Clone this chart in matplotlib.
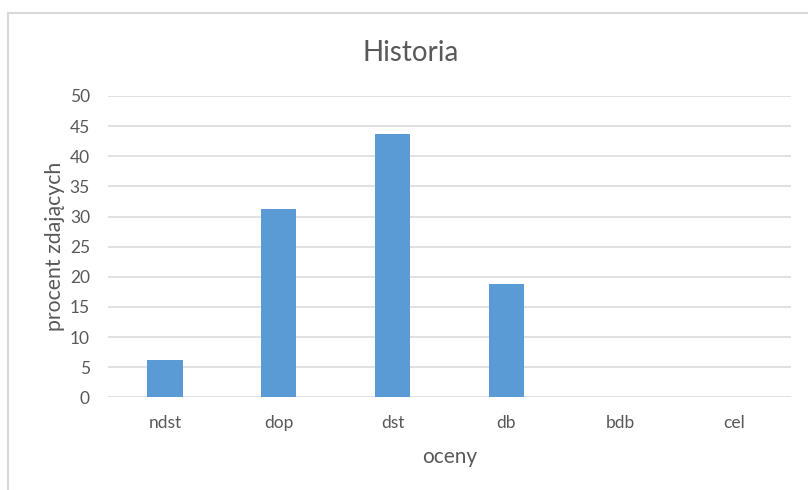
import matplotlib
matplotlib.use("Agg")
import matplotlib.pyplot as plt
from matplotlib.patches import Rectangle

categories = ["ndst", "dop", "dst", "db", "bdb", "cel"]
values = [6.25, 31.25, 43.75, 18.75, 0, 0]
yticks = [0, 5, 10, 15, 20, 25, 30, 35, 40, 45, 50]

W, H = 808, 490
plt.rcParams['font.family'] = ['Lato', 'DejaVu Sans']
fig = plt.figure(figsize=(W / 100, H / 100), dpi=100)
fig.patch.set_facecolor("white")

ax = fig.add_axes([108 / W, (H - 397.3) / H, (791 - 108) / W, (397.3 - 96) / H])
x = list(range(len(categories)))
ax.bar(x, values, width=0.31, color="#5b9bd5", zorder=3)
ax.set_xlim(-0.5, len(categories) - 0.5)
ax.set_ylim(0, 50)
ax.set_yticks(yticks)
ax.set_xticks(x)
ax.set_xticklabels(categories)
ax.grid(axis="y", color="#d9d9d9", linewidth=1.1, zorder=0)
ax.set_axisbelow(True)
for s in ax.spines.values():
    s.set_visible(False)
ax.tick_params(axis="both", length=0, colors="#595959", labelsize=12.5)
ax.tick_params(axis="y", pad=13)
ax.tick_params(axis="x", pad=13)

ax.set_xlabel("oceny", fontsize=15, color="#595959", labelpad=11)
ax.set_ylabel("procent zdających", fontsize=15.3, color="#595959", labelpad=3.5)

fig.text(411 / W, 1 - 61 / H, "Historia", ha="center", va="baseline",
         fontsize=20, color="#595959")

fig.patches.append(Rectangle((7.5 / W, -0.1), 1.2, 1.1 - 13 / H,
                             transform=fig.transFigure, fill=False,
                             edgecolor="#d9d9d9", linewidth=1.5))

fig.savefig("out.png", dpi=100, facecolor="white")
